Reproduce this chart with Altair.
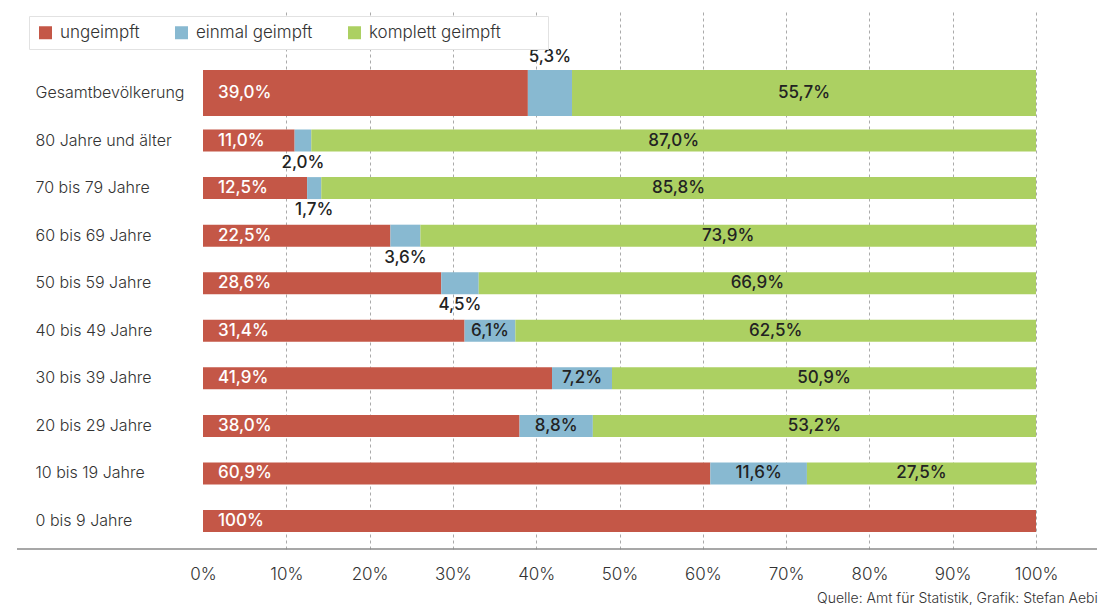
import altair as alt
import pandas as pd

categories = ["Gesamtbevölkerung", "80 Jahre und älter", "70 bis 79 Jahre", "60 bis 69 Jahre",
              "50 bis 59 Jahre", "40 bis 49 Jahre", "30 bis 39 Jahre", "20 bis 29 Jahre",
              "10 bis 19 Jahre", "0 bis 9 Jahre"]
ungeimpft = [39.0, 11.0, 12.5, 22.5, 28.6, 31.4, 41.9, 38.0, 60.9, 100.0]
einmal = [5.3, 2.0, 1.7, 3.6, 4.5, 6.1, 7.2, 8.8, 11.6, 0.0]
komplett = [55.7, 87.0, 85.8, 73.9, 66.9, 62.5, 50.9, 53.2, 27.5, 0.0]
series = ["ungeimpft", "einmal geimpft", "komplett geimpft"]
colors = ["#C45747", "#88B9D1", "#ACD062"]
x_ticks = [0, 10, 20, 30, 40, 50, 60, 70, 80, 90, 100]
source = "Quelle: Amt für Statistik, Grafik: Stefan Aebi"

rows = []
for i, c in enumerate(categories):
    for k, (s, vals) in enumerate(zip(series, [ungeimpft, einmal, komplett])):
        rows.append({"cat": c, "status": s, "idx": k, "value": vals[i]})
df = pd.DataFrame(rows)

FONT = "Inter"
total = categories[0]

base = alt.Chart(df).transform_stack(
    stack="value", as_=["x0", "x1"], groupby=["cat"], sort=[alt.SortField("idx")]
).transform_calculate(
    mid="(datum.x0 + datum.x1) / 2",
    lbl="datum.value == 100 ? '100%' : replace(format(datum.value, '.1f'), '.', ',') + '%'",
)

yenc = alt.Y("cat:N", sort=categories, title=None,
             scale=alt.Scale(domain=categories, paddingInner=0, paddingOuter=0.677, align=0.935),
             axis=alt.Axis(labelAlign="left", labelPadding=168, ticks=False, tickSize=0, domain=False,
                           labelFont=FONT, labelFontSize=16, labelColor="#333333", labelFontWeight=300,
                           labelLimit=300))

xscale = alt.Scale(domain=[0, 100], nice=False, zero=True)

bars = base.mark_bar().encode(
    x=alt.X("x0:Q", scale=xscale, title=None,
            axis=alt.Axis(values=x_ticks, labelExpr="datum.value + '%'", domain=False, ticks=False,
                          tickSize=0, labelPadding=17, labelFlush=False, labelFont=FONT, labelFontSize=17,
                          labelFontWeight=300, labelColor="#333333",
                          grid=True, gridDash=[3, 3], gridColor="#aaaaaa", gridWidth=1,
                          gridOpacity=alt.ExprRef("datum.value == 0 ? 0 : 1"))),
    x2="x1:Q",
    y=yenc,
    color=alt.Color("status:N", scale=alt.Scale(domain=series, range=colors),
                    legend=alt.Legend(title=".", titleOrient="right", titleColor="white",
                                      titleFontSize=4, titlePadding=37, titleBaseline="middle",
                                      orient="none", legendX=-174, legendY=7,
                                      direction="horizontal", symbolType="square", symbolSize=169,
                                      symbolStrokeWidth=0, labelFont=FONT, labelFontSize=17,
                                      labelFontWeight=300, labelColor="#333333", labelOffset=6,
                                      columnPadding=33, padding=8, fillColor="white",
                                      strokeColor="#e2e2e2")),
    size=alt.condition(f"datum.cat == '{total}'", alt.value(46), alt.value(22)),
)

txt_common = dict(font=FONT, fontSize=17, fontWeight=500)

red_txt = base.transform_filter("datum.idx == 0").mark_text(
    align="left", dx=15, color="white", **txt_common
).encode(x=alt.X("x0:Q", scale=xscale), y=alt.Y("cat:N", sort=categories), text="lbl:N")

blue_in = base.transform_filter("datum.idx == 1 && datum.value >= 6").mark_text(
    align="center", color="#222222", **txt_common
).encode(x=alt.X("mid:Q", scale=xscale), y=alt.Y("cat:N", sort=categories), text="lbl:N")

blue_below = base.transform_filter(
    f"datum.idx == 1 && datum.value > 0 && datum.value < 6 && datum.cat != '{total}'"
).mark_text(align="center", dy=22, color="#222222", **txt_common).encode(
    x=alt.X("mid:Q", scale=xscale), y=alt.Y("cat:N", sort=categories), text="lbl:N")

blue_above = base.transform_filter(f"datum.idx == 1 && datum.cat == '{total}'").mark_text(
    align="center", dy=-36, color="#222222", **txt_common
).encode(x=alt.X("mid:Q", scale=xscale), y=alt.Y("cat:N", sort=categories), text="lbl:N")

green_txt = base.transform_filter("datum.idx == 2 && datum.value > 0").mark_text(
    align="center", color="#222222", **txt_common
).encode(x=alt.X("mid:Q", scale=xscale), y=alt.Y("cat:N", sort=categories), text="lbl:N")

baseline = alt.Chart(pd.DataFrame({"a": [0]})).mark_rule(color="#8a8a8a", strokeWidth=1.6).encode(
    x=alt.value(-186), x2=alt.value(894), y=alt.value(540)
)

chart = alt.layer(bars, baseline, red_txt, blue_in, blue_below, blue_above, green_txt).properties(
    width=833, height=540,
    autosize=alt.AutoSizeParams(type="none"),
    padding={"left": 195, "top": 1, "right": 75, "bottom": 56},
    title=alt.TitleParams(source, orient="bottom", anchor="end", frame="bounds", fontSize=14,
                          fontWeight=300, font=FONT, color="#333333", offset=10),
).configure_view(stroke=None)

chart.save("out.html", embed_options={"renderer": "svg", "actions": False})
